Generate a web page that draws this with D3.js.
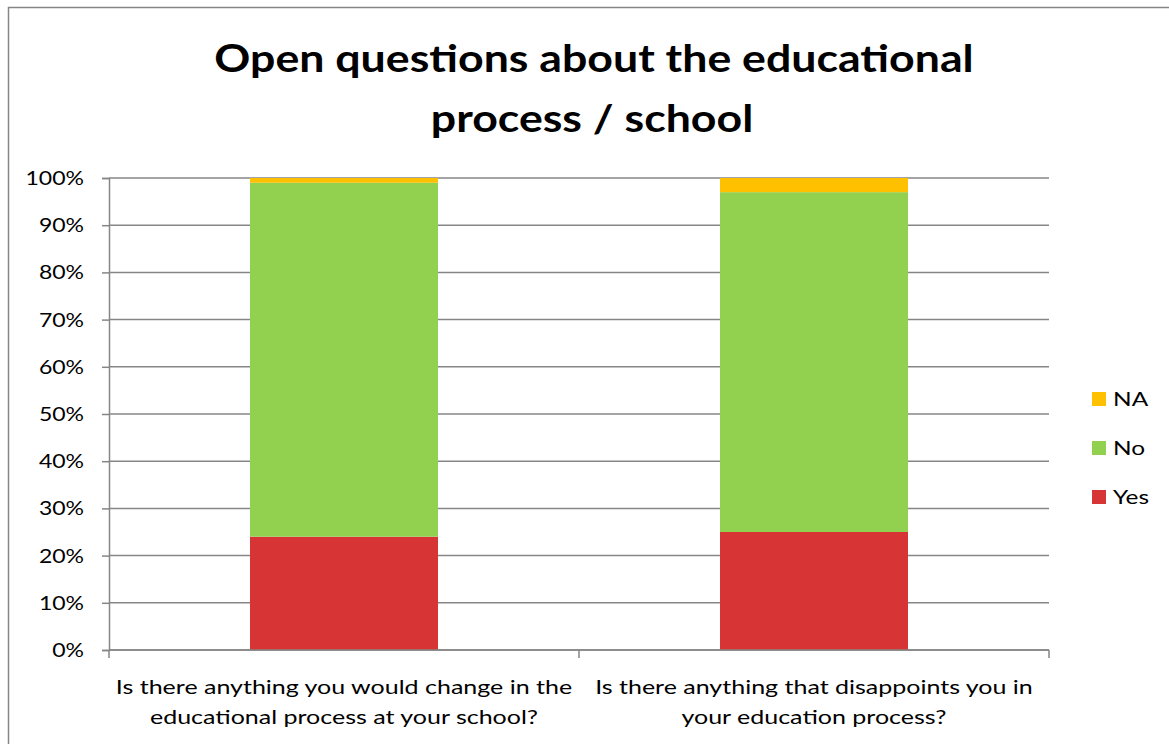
<!DOCTYPE html>
<html><head><meta charset="utf-8">
<script src="https://cdn.jsdelivr.net/npm/d3@7"></script>
<style>body{margin:0;background:#fff}svg{display:block}text{font-family:Lato,"Open Sans",sans-serif}</style>
</head><body>
<svg id="c" width="1169" height="744"></svg>
<script>
const categories = ["Is there anything you would change in the|educational process at your school?",
                    "Is there anything that disappoints you in|your education process?"];
const seriesNames = ["Yes","No","NA"];
const yesValues = [24, 25];
const noValues = [75, 72];
const naValues = [1, 3];
const tickValues = [0,10,20,30,40,50,60,70,80,90,100];
const colors = {Yes:"#D73535", No:"#92D050", NA:"#FFC000"};

(function(){
function stretch(sel, f){
  sel.each(function(){
    const len = this.getComputedTextLength();
    d3.select(this).attr("textLength", len*f).attr("lengthAdjust","spacingAndGlyphs");
  });
}
const svg = d3.select("#c");
svg.append("rect").attr("x",8.5).attr("y",7.5).attr("width",1200).attr("height",800)
  .attr("fill","none").attr("stroke","#868686").attr("stroke-width",1.5);

const pLeft=109, pRight=1049, pTop=178, pBottom=650;
const x = d3.scaleBand().domain(categories).range([pLeft,pRight]).paddingInner(0.6).paddingOuter(0.3);
const y = d3.scaleLinear().domain([0,100]).range([pBottom,pTop]);

const rows = categories.map((c,i)=>({cat:c, Yes:yesValues[i], No:noValues[i], NA:naValues[i]}));
const stack = d3.stack().keys(seriesNames)(rows);

svg.append("g").selectAll("line").data(tickValues).join("line")
  .attr("x1",pLeft).attr("x2",pRight).attr("y1",d=>y(d)).attr("y2",d=>y(d))
  .attr("stroke","#868686").attr("stroke-width",1.5);

svg.append("g").selectAll("g").data(stack).join("g").attr("fill",d=>colors[d.key])
  .selectAll("rect").data(d=>d).join("rect")
  .attr("x",d=>x(d.data.cat)).attr("width",x.bandwidth())
  .attr("y",d=>y(d[1])).attr("height",d=>y(d[0])-y(d[1]));

const ya = svg.append("g").attr("transform",`translate(${pLeft},0)`)
  .call(d3.axisLeft(y).tickValues(tickValues).tickFormat(d=>d+"%").tickSize(7).tickPadding(18));
ya.select(".domain").attr("stroke","#868686").attr("stroke-width",1.5);
ya.selectAll(".tick line").attr("stroke","#868686").attr("stroke-width",1.5);
ya.selectAll("text").attr("font-size",20).attr("fill","#000").style("font-family","Lato,sans-serif");
stretch(ya.selectAll("text"), 1.15);

svg.append("line").attr("x1",pLeft).attr("x2",pRight).attr("y1",pBottom).attr("y2",pBottom)
  .attr("stroke","#868686").attr("stroke-width",1.5);
const bounds = [pLeft, pLeft + (pRight-pLeft)/2, pRight];
svg.append("g").selectAll("line").data(bounds).join("line")
  .attr("x1",d=>d).attr("x2",d=>d).attr("y1",pBottom).attr("y2",pBottom+8)
  .attr("stroke","#868686").attr("stroke-width",1.5);

const cl = svg.append("g").selectAll("text").data(categories).join("text")
  .attr("x",d=>x(d)+x.bandwidth()/2).attr("y",694).attr("text-anchor","middle")
  .attr("font-size",20).attr("fill","#000");
cl.selectAll("tspan").data(d=>d.split("|")).join("tspan")
  .attr("x",function(){return d3.select(this.parentNode).attr("x");})
  .attr("dy",(d,i)=>i?30:0).text(d=>d);
stretch(cl.selectAll("tspan"), 1.25);

const t1 = svg.append("text").attr("x",594).attr("y",72).attr("text-anchor","middle")
  .attr("font-size",38).attr("font-weight","bold").text("Open questions about the educational");
const t2 = svg.append("text").attr("x",592).attr("y",132).attr("text-anchor","middle")
  .attr("font-size",38).attr("font-weight","bold").text("process / school");
stretch(t1, 1.175); stretch(t2, 1.175);

const legendItems = ["NA","No","Yes"];
const lg = svg.append("g").selectAll("g").data(legendItems).join("g")
  .attr("transform",(d,i)=>`translate(1092,${399+i*49})`);
lg.append("rect").attr("x",0).attr("y",-7).attr("width",14).attr("height",14).attr("fill",d=>colors[d]);
const lt = lg.append("text").attr("x",21).attr("y",7).attr("font-size",20).text(d=>d);
stretch(lt, 1.22);
})();
</script>
</body></html>
